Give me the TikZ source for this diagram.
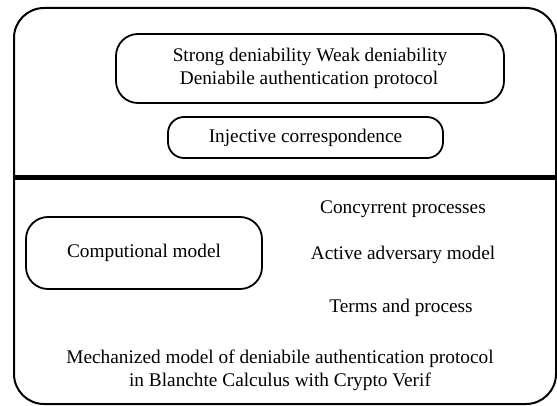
\documentclass[tikz,border=0pt]{standalone}
\usepackage{fontspec}
\setmainfont{Liberation Serif}
\begin{document}
\begin{tikzpicture}[x=1pt,y=-1pt,
  every node/.style={font=\fontsize{19.3}{23}\selectfont},
  roundbox/.style={draw, line width=1.8pt, rounded corners=22pt, inner sep=0pt},
  plain/.style={align=center, inner sep=0pt}]
  \useasboundingbox (0,0) rectangle (557,406);
  % outer frame and the divider between the two layers
  \draw[line width=2pt, rounded corners=30pt] (14,8) rectangle (556,404);
  \coordinate (divL) at (14,178);
  \coordinate (divR) at (557,178);
  \draw[line width=5pt] (divL) -- (divR);
  % upper layer
  \node[roundbox, minimum width=388pt, minimum height=69pt] (top) at (310,68.5) {};
  \node[plain] (strong) at (310,57) {Strong deniability Weak deniability};
  \node[plain] (dap) at (309,80) {Deniabile authentication protocol};
  \node[roundbox, rounded corners=16pt, minimum width=275pt, minimum height=41pt] (inj) at (305.5,137.5) {Injective correspondence};
  % lower layer
  \node[roundbox, minimum width=236pt, minimum height=72pt] (comp) at (144,253) {Computional model};
  \node[plain] (conc) at (403,209) {Concyrrent processes};
  \node[plain] (adv) at (403,255) {Active adversary model};
  \node[plain] (terms) at (401,308) {Terms and process};
  \node[plain] (mech) at (280,370) {Mechanized model of deniabile authentication protocol\\in Blanchte Calculus with Crypto Verif};
\end{tikzpicture}
\end{document}
